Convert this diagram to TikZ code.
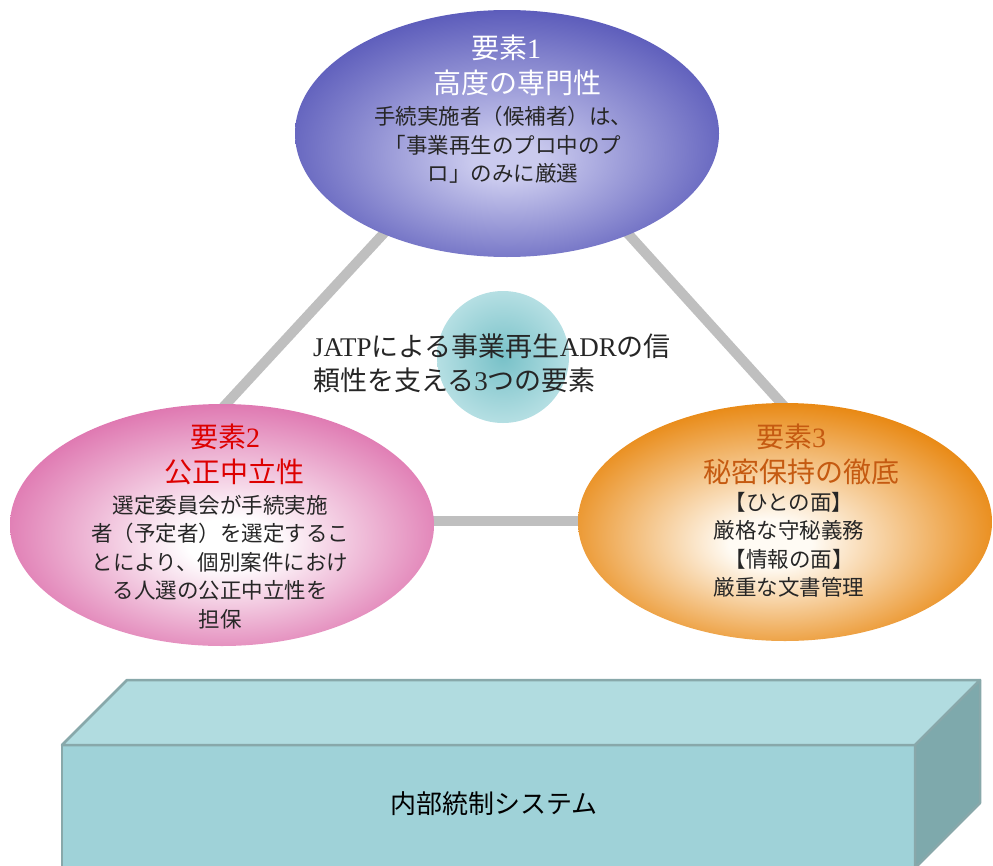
\documentclass[tikz,border=0pt]{standalone}
\usepackage{fontspec}
\setmainfont{Noto Sans CJK JP}
\newfontfamily\lat{Liberation Serif}
\usetikzlibrary{shapes.geometric}
\definecolor{topin}{HTML}{CACAEE}
\definecolor{topout}{HTML}{5252B6}
\definecolor{pinkin}{HTML}{FFFFFF}
\definecolor{pinkout}{HTML}{DF78B1}
\definecolor{orin}{HTML}{FFFBF4}
\definecolor{orout}{HTML}{E8860E}
\definecolor{tealin}{HTML}{78C1C8}
\definecolor{tealout}{HTML}{B5DFE3}
\definecolor{linec}{HTML}{BFBFBF}
\definecolor{bodyc}{HTML}{262626}
\definecolor{redt}{HTML}{DD0000}
\definecolor{orat}{HTML}{C55A11}
\definecolor{boxtop}{HTML}{B1DCE0}
\definecolor{boxfront}{HTML}{9FD2D8}
\definecolor{boxside}{HTML}{7EA9AC}
\definecolor{boxline}{HTML}{88A8AA}
\pgfdeclareradialshading{topsh}{\pgfpoint{0bp}{-6bp}}{color(0bp)=(topin); color(4bp)=(topin); color(30bp)=(topout); color(50bp)=(topout)}
\pgfdeclareradialshading{pinksh}{\pgfpoint{1bp}{-4bp}}{color(0bp)=(pinkin); color(5bp)=(pinkin); color(27bp)=(pinkout); color(50bp)=(pinkout)}
\pgfdeclareradialshading{orsh}{\pgfpoint{-2bp}{-5bp}}{color(0bp)=(orin); color(5bp)=(orin); color(28bp)=(orout); color(50bp)=(orout)}
\pgfdeclareradialshading{tealsh}{\pgfpoint{0bp}{0bp}}{color(0bp)=(tealin); color(25bp)=(tealout); color(50bp)=(tealout)}
\begin{document}
\begin{tikzpicture}[x=1pt,y=-1pt,
  ttl/.style={align=center, font=\fontsize{28}{35}\selectfont, inner sep=0pt},
  bodytxt/.style={align=center, text=bodyc, font=\fontsize{21.5}{28.5}\selectfont, inner sep=0pt},
  elem/.style={ellipse, draw=none, inner sep=0pt},
  tri/.style={line width=10pt, draw=linec},
  face/.style={draw=boxline, line width=2.5pt, line join=round}]
\useasboundingbox (0,0) rectangle (993,865);
\clip (0,0) rectangle (993,865);
% triangle
\coordinate (A) at (507,100);
\coordinate (B) at (118,521);
\coordinate (C) at (888,521);
\draw[tri] (A) -- (B);
\draw[tri] (A) -- (C);
\draw[tri] (B) -- (C);
% core circle
\node[circle, minimum size=132pt, inner sep=0pt, shading=tealsh] (core) at (503,357) {};
% ellipses
\node[elem, minimum width=424pt, minimum height=247pt, shading=topsh] (e1) at (507,133.5) {};
\node[elem, minimum width=424pt, minimum height=242pt, shading=pinksh] (e2) at (222,525) {};
\node[elem, minimum width=414pt, minimum height=238pt, shading=orsh] (e3) at (785,522) {};
% texts top
\node[ttl, text=white] (t1) at (506,65.5) {要素{\lat 1}\\\hspace*{22pt}高度の専門性};
\node[bodytxt] (b1) at (503,145) {手続実施者（候補者）は、\\「事業再生のプロ中のプ\\ロ」のみに厳選};
% texts left
\node[ttl, text=redt] (t2) at (225,454.5) {要素{\lat 2}\\\hspace*{18pt}公正中立性};
\node[bodytxt] (b2) at (220,562) {選定委員会が手続実施\\者（予定者）を選定するこ\\とにより、個別案件におけ\\る人選の公正中立性を\\担保};
% texts right
\node[ttl, text=orat] (t3) at (791,454) {要素{\lat 3}\\\hspace*{20pt}秘密保持の徹底};
\node[bodytxt] (b3) at (789,545) {【ひとの面】\\厳格な守秘義務\\【情報の面】\\厳重な文書管理};
% center label
\node[anchor=west, align=left, inner sep=0pt, text=bodyc, font=\fontsize{27}{33.5}\selectfont] (lbl) at (313,363.5) {{\lat JATP}による事業再生{\lat ADR}の信\\頼性を支える{\lat 3}つの要素};
% box
\filldraw[face, fill=boxfront] (62,745) rectangle (915,885);
\filldraw[face, fill=boxtop] (62,745) -- (127,680) -- (980,680) -- (915,745) -- cycle;
\filldraw[face, fill=boxside] (915,745) -- (980,680) -- (980,803) -- (915,868) -- cycle;
\node[inner sep=0pt, text=black, font=\fontsize{26}{30}\selectfont] (sys) at (494,804) {内部統制システム};
\end{tikzpicture}
\end{document}
